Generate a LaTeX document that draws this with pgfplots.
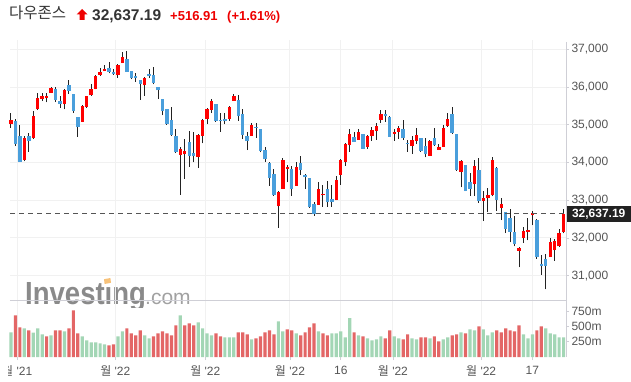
\documentclass[border=0pt]{standalone}
\usepackage{fontspec}
\setmainfont{Liberation Sans}
\newfontfamily\kr{Noto Sans CJK KR}
\usepackage{pgfplots}
\usepackage{pgfplotstable}
\pgfplotsset{compat=1.18}
\definecolor{upred}{HTML}{FF0000}
\definecolor{dnblue}{HTML}{4A9FDC}
\definecolor{wick}{HTML}{222222}
\definecolor{vgreen}{HTML}{A3D6B5}
\definecolor{vred}{HTML}{E36666}
\definecolor{gridc}{HTML}{F1F1F1}
\definecolor{axc}{HTML}{CFCFD6}
\definecolor{lbl}{HTML}{555555}
\definecolor{ttl}{HTML}{333333}
\definecolor{chg}{HTML}{EE0000}
\definecolor{logog}{HTML}{8A8A8A}
\definecolor{logoo}{HTML}{F7C27A}

% candles: index, open, high, low, close
\pgfplotstableread{
i O H L C
0 35010 35300 34920 35135
3 34070 34700 34030 34639
5 34640 35360 34620 35227
6 35410 35835 35390 35719
7 35694 35835 35623 35754
8 35700 35850 35590 35754
9 35853 36000 35840 35970
12 35540 35940 35410 35927
16 35076 35510 35070 35493
17 35480 35760 35455 35754
18 35780 36070 35775 35950
19 35940 36310 35940 36302
20 36320 36515 36300 36398
21 36420 36575 36420 36488
24 36310 36600 36250 36585
25 36630 36930 36630 36799
30 36045 36270 35765 36252
38 34200 34420 33150 34365
39 34215 34620 33575 34298
42 34150 34750 33850 34725
43 34705 35165 34503 35132
44 35165 35456 35015 35405
45 35394 35694 35306 35629
49 35147 35500 35100 35463
50 35632 35826 35630 35768
54 34705 35058 34705 34988
60 32839 33249 32272 33224
61 33293 34114 33293 34058
62 33820 33920 33470 33892
64 33381 34017 33381 33891
69 32878 33470 32878 33286
70 33129 33398 32825 33174
73 33002 33646 33002 33544
74 33673 34088 33408 34063
75 34017 34503 33911 34481
76 34458 34882 34282 34754
78 34600 34882 34600 34808
80 34414 34723 34370 34707
81 34705 34952 34573 34861
82 34830 35058 34600 34955
83 35129 35385 35058 35294
86 34767 34882 34573 34818
87 34811 34970 34635 34921
90 34440 34705 34220 34583
91 34573 34908 34485 34721
94 34176 34600 34170 34564
96 34340 34485 34326 34411
97 34414 34988 34414 34911
98 34970 35323 34952 35160
101 33752 34061 33337 34049
104 33421 34062 33110 33916
106 32990 33240 32443 33061
107 33050 33333 32683 33129
108 33130 34134 33100 34061
110 32800 33065 32470 32899
114 31660 31750 31220 31730
115 31998 32300 31860 32197
116 32160 32530 31935 32223
117 32600 32710 32330 32655
121 31490 31998 31490 31880
122 31668 31970 31400 31929
123 31775 32238 31757 32120
124 32160 32760 32120 32637
}\up

\pgfplotstableread{
i O H L C
1 35100 35156 34430 34483
2 34696 35005 34017 34022
4 34700 34790 34280 34580
10 35960 35990 35600 35650
11 35620 35760 35450 35544
13 36047 36190 35810 35897
14 35810 35810 35305 35365
15 35217 35217 34680 34932
22 36515 36665 36360 36398
23 36400 36490 36320 36338
26 36735 36950 36400 36407
27 36427 36430 36200 36236
28 36300 36380 36135 36231
29 36190 36190 35660 36068
31 36340 36490 36250 36290
32 36310 36520 36070 36113
33 35990 36000 35680 35912
34 35680 35690 35250 35368
35 35410 35410 35000 35029
36 35120 35470 34700 34715
37 34705 34900 34250 34265
40 34530 34830 33890 34168
41 34260 34800 34000 34160
46 35544 35550 35076 35111
47 35120 35323 34820 35089
48 35140 35320 35010 35091
51 35650 35800 35100 35241
52 35279 35430 34617 34738
53 34705 34800 34326 34566
55 34952 35058 34661 34934
56 34882 34882 34265 34312
57 34335 34423 34017 34079
58 33982 34000 33381 33596
59 33690 33840 33117 33131
63 33840 33910 33117 33294
65 33980 34176 33664 33794
66 33664 33700 33293 33614
67 33584 33600 32800 32817
68 32896 32950 32590 32632
71 33293 33514 32825 32944
72 33028 33400 32825 32945
77 34680 34811 34547 34553
79 34749 34749 34352 34358
84 35288 35385 35076 35228
85 35217 35230 34680 34678
88 34882 35120 34590 34641
89 34529 34600 34290 34496
92 34644 34661 34282 34308
93 34441 34661 34132 34220
95 34644 34908 34440 34451
99 35279 35482 34749 34793
100 34749 34749 33779 33811
102 33929 33930 33240 33240
103 33470 33708 33117 33302
105 33804 34107 32932 32977
109 33866 33870 32710 32998
111 32700 32700 32130 32246
112 32530 32754 31882 32161
113 32150 32576 31775 31834
118 32487 32490 31445 31490
119 31315 31550 31020 31253
120 31440 31575 30636 31262
}\down

% volume (millions), green = close above previous close
\pgfplotstableread{
i V
0 403
3 468
5 397
6 468
7 370
9 354
12 419
16 337
17 272
18 240
19 240
20 223
21 207
24 337
25 419
30 354
31 305
38 679
42 565
43 468
44 386
45 354
48 321
49 321
50 321
54 289
60 582
61 419
64 386
69 419
72 386
73 386
74 419
75 321
76 631
78 354
80 305
81 272
82 289
83 337
86 337
87 305
90 305
91 289
94 305
97 289
98 321
101 403
103 451
104 435
106 451
107 354
108 403
115 370
116 305
117 370
120 468
121 386
122 370
123 321
124 321
}\volg

\pgfplotstableread{
i V
1 679
2 484
4 435
8 337
10 435
11 435
13 468
14 761
15 386
22 191
23 207
26 468
27 386
28 354
29 435
32 337
33 386
34 419
35 386
36 354
37 517
39 517
40 549
41 517
46 386
47 337
51 403
52 403
53 370
55 305
56 337
57 403
58 435
59 370
62 451
63 435
65 354
66 403
67 484
68 549
70 386
71 354
77 403
79 337
84 305
85 435
88 289
89 370
92 321
93 321
95 337
96 256
99 354
100 370
102 386
105 500
109 435
110 403
111 468
112 435
113 419
114 517
118 435
119 500
}\volr

\pgfplotsset{
  candlewick/.style={draw=none, mark=none, forget plot,
    error bars/.cd, y dir=plus, y explicit, error mark=none,
    error bar style={draw=wick, line width=1pt}},
  candlebody/.style={draw=none, mark=none, forget plot,
    error bars/.cd, y dir=plus, y explicit, error mark=none,
    error bar style={draw=#1, line width=3.4pt}},
}

\begin{document}
\begin{tikzpicture}[x=1pt,y=1pt]
\path[use as bounding box] (0,0) rectangle (631,381);

% watermark logo
\begin{scope}
\clip (10,74) rectangle (566,110);
\node[anchor=base west, inner sep=0, text=logog] at (25,76.5)
  {\fontsize{32}{32}\selectfont\bfseries\scalebox{0.86}[1]{Invest\i ng}};
\fill[logoo] (104.6,97.0) -- (111.0,98.2) -- (110.4,103.0) -- (104.0,101.8) -- cycle;
\node[anchor=base west, inner sep=0, text=logog!80] at (145,76.5)
  {\fontsize{21}{21}\selectfont .com};
\end{scope}

% price panel
\begin{axis}[
  at={(10pt,81pt)}, anchor=south west, scale only axis,
  width=556pt, height=260pt,
  xmin=-0.22, xmax=124.54, ymin=30355, ymax=37246,
  axis line style={draw=none},
  xtick={1.4,23.4,43.6,62.6,74,85.7,105.5,117}, xticklabels={},
  xtick style={draw=none},
  xmajorgrids, ymajorgrids,
  major grid style={gridc, line width=1pt},
  ytick={31000,32000,33000,34000,35000,36000,37000},
  scaled y ticks=false,
  ytick pos=right, yticklabel pos=right,
  ytick style={axc, line width=0.8pt}, tick align=outside, major tick length=3pt,
  yticklabel style={anchor=west, font=\fontsize{12}{12}\selectfont, text=lbl, xshift=-1pt},
  /pgf/number format/assume math mode=true,
  /pgf/number format/1000 sep={,},
  clip=false,
]
\addplot[candlewick] table[x=i, y=L, y error plus expr=\thisrow{H}-\thisrow{L}] {\up};
\addplot[candlewick] table[x=i, y=L, y error plus expr=\thisrow{H}-\thisrow{L}] {\down};
\addplot[candlebody=upred] table[x=i, y=O, y error plus expr=\thisrow{C}-\thisrow{O}] {\up};
\addplot[candlebody=dnblue] table[x=i, y=C, y error plus expr=\thisrow{O}-\thisrow{C}] {\down};
\addplot[color=lbl, line width=1.2pt, dash pattern=on 5pt off 4pt, forget plot]
  coordinates {(-0.22,32637.19) (124.54,32637.19)};
\node[anchor=west, fill=wick, text=white, inner sep=0pt, minimum height=16pt, minimum width=65pt,
  font=\fontsize{12}{12}\selectfont\bfseries] at (axis cs:124.54,32637.19) {32,637.19};
\end{axis}

% volume panel
\begin{axis}[
  at={(10pt,24pt)}, anchor=south west, scale only axis,
  width=556pt, height=57pt,
  xmin=-0.22, xmax=124.54, ymin=0, ymax=928,
  axis line style={draw=none},
  xtick={1.4,23.4,43.6,62.6,74,85.7,105.5,117},
  xticklabels={{\kr 월} \textquotesingle21,{\kr 월} \textquotesingle22,{\kr 월} \textquotesingle22,{\kr 월} \textquotesingle22,16,{\kr 월} \textquotesingle22,{\kr 월} \textquotesingle22,17},
  xtick pos=bottom, xtick style={axc, line width=0.8pt},
  xmajorgrids,
  major grid style={gridc, line width=1pt},
  ytick={250,500,750}, yticklabels={250m,500m,750m},
  ytick pos=right, yticklabel pos=right,
  ytick style={axc, line width=0.8pt}, tick align=outside, major tick length=3pt,
  yticklabel style={anchor=west, font=\fontsize{12}{12}\selectfont, text=lbl, xshift=-1pt},
  xticklabel style={font=\fontsize{12}{12}\selectfont, text=lbl, yshift=-2.5pt},
  clip=false,
]
\addplot[ybar, bar width=3.2pt, bar shift=0pt, fill=vgreen, draw=none] table[x=i, y=V] {\volg};
\addplot[ybar, bar width=3.2pt, bar shift=0pt, fill=vred, draw=none] table[x=i, y=V] {\volr};
\draw[axc, line width=1pt] (rel axis cs:0,1) -- (rel axis cs:1,1);
\end{axis}

% right axis line
\draw[axc, line width=1pt] (566,339) -- (566,24);
% hide the clipped part of the first date label
\fill[white] (0,0) rectangle (8,22);

% title
\node[anchor=base west, inner sep=0, text=ttl] at (9,362.3) {\kr\fontsize{15.5}{15.5}\selectfont 다우존스};
\fill[chg] (82,372) -- (87.5,366.5) -- (84.5,366.5) -- (84.5,361) -- (79.5,361) -- (79.5,366.5) -- (76.5,366.5) -- cycle;
\node[anchor=base west, inner sep=0, text=ttl] at (92,360.7) {\fontsize{15.5}{15.5}\selectfont\bfseries 32,637.19};
\node[anchor=base west, inner sep=0, text=chg] at (170,360.7) {\fontsize{13}{13}\selectfont\bfseries +516.91};
\node[anchor=base west, inner sep=0, text=chg] at (227,360.7) {\fontsize{13}{13}\selectfont\bfseries (+1.61\%)};
\end{tikzpicture}
\end{document}
